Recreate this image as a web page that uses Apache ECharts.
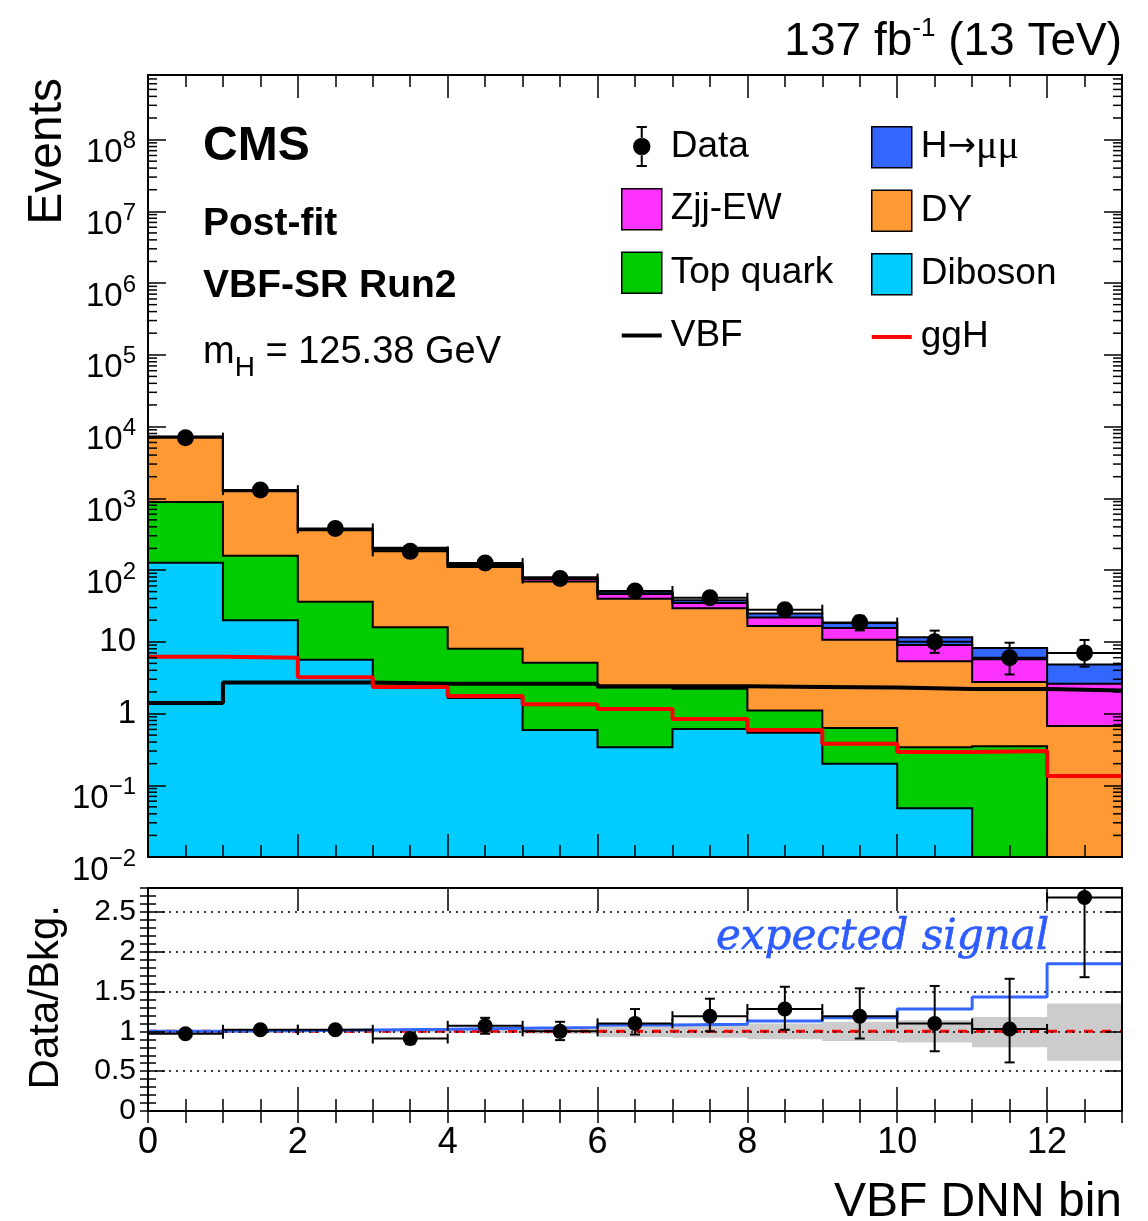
<!DOCTYPE html>
<html>
<head>
<meta charset="utf-8">
<script src="https://cdn.jsdelivr.net/npm/echarts@6/dist/echarts.min.js"></script>
<style>
html,body{margin:0;padding:0;background:#fff;}
#chart{width:1148px;height:1221px;}
</style>
</head>
<body>
<div id="chart"></div>
<script>
// ---------------- data ----------------
const binIndex  = [0, 1, 2, 3, 4, 5, 6, 7, 8, 9, 10, 11, 12];
// stacked components (events per bin)
const diboson   = [126, 20, 5.6, 2.4, 1.65, 0.59, 0.34, 0.61, 0.54, 0.2, 0.048, 0, 0];
const topQuark  = [764, 138, 30.4, 13.6, 6.35, 4.5, 1.96, 1.6, 0.56, 0.43, 0.29, 0.35, 0];
const dy        = [6310, 1100, 322, 175, 102, 64, 37.5, 27, 15.5, 10.0, 5.0, 2.4, 0.67];
const zjjEW     = [15, 12, 8, 8, 7, 6, 6.5, 5.5, 5.2, 4.9, 3.7, 2.95, 1.93];
const hmumu     = [7.6, 8.7, 5.9, 5.0, 4.35, 3.95, 3.56, 3.24, 2.94, 2.68, 2.49, 2.5, 2.24];
// signal lines (unstacked)
const vbf       = [1.4, 2.7, 2.7, 2.6, 2.6, 2.6, 2.4, 2.4, 2.35, 2.3, 2.2, 2.2, 2.1];
const ggh       = [6.2, 6.0, 3.2, 2.35, 1.75, 1.35, 1.16, 0.84, 0.59, 0.38, 0.29, 0.3, 0.135];
// data
const dataVal   = [7000, 1300, 380, 182, 125, 76, 51, 41, 28, 18.5, 10, 6.0, 7.0];
const dataLo    = [6916, 1264, 361, 169, 114, 67, 44, 35, 23, 14.4, 7.0, 3.5, 4.5];
const dataHi    = [7084, 1336, 400, 196, 136, 85, 58, 47.5, 33.7, 23, 14.3, 9.7, 10.6];
// ratio panel
const ratioVal  = [0.97, 1.02, 1.02, 0.91, 1.07, 1.00, 1.10, 1.19, 1.28, 1.19, 1.10, 1.03, 2.68];
const ratioLo   = [0.958, 0.992, 0.97, 0.84, 0.97, 0.89, 0.96, 1.00, 1.02, 0.91, 0.75, 0.61, 1.68];
const ratioHi   = [0.982, 1.048, 1.07, 0.98, 1.17, 1.12, 1.28, 1.41, 1.56, 1.54, 1.57, 1.66, 3.7];
const expSignal = [1.001, 1.007, 1.016, 1.025, 1.04, 1.05, 1.08, 1.09, 1.13, 1.17, 1.28, 1.43, 1.85];
const bandLo    = [0.995, 0.99, 0.99, 0.985, 0.98, 0.97, 0.93, 0.92, 0.90, 0.88, 0.86, 0.80, 0.63];
const bandHi    = [1.005, 1.01, 1.01, 1.015, 1.02, 1.03, 1.07, 1.08, 1.10, 1.12, 1.14, 1.18, 1.35];
// tick labels
const xTickValues     = [0, 2, 4, 6, 8, 10, 12];
const eventsTickExps  = [-2, -1, 0, 1, 2, 3, 4, 5, 6, 7, 8];
const ratioTickValues = [0, 0.5, 1, 1.5, 2, 2.5];

// ---------------- helpers ----------------
const FONT = '"Liberation Sans", Arial, Helvetica, sans-serif';
const Y_MIN = 1e-2, Y_MAX = Math.pow(10, 8.9);
const NB = binIndex.length;
const clampY = v => Math.min(Y_MAX, Math.max(Y_MIN, v));

const components = [
  {name: 'Diboson',   vals: diboson,  color: '#00CCFF'},
  {name: 'Top quark', vals: topQuark, color: '#00CC00'},
  {name: 'DY',        vals: dy,       color: '#FF9933'},
  {name: 'Zjj-EW',    vals: zjjEW,    color: '#FF33FF'},
  {name: 'H→μμ',      vals: hmumu,    color: '#3366FF'}
];
let running = binIndex.map(() => 0);
components.forEach(c => {
  c.lo = running.slice();
  running = running.map((v, i) => v + c.vals[i]);
  c.hi = running.slice();
});

function stepTop(api, arr, clamp) {
  const pts = [];
  for (let i = 0; i < NB; i++) {
    pts.push(api.coord([binIndex[i], clamp(arr[i])]));
    pts.push(api.coord([binIndex[i] + 1, clamp(arr[i])]));
  }
  return pts;
}
function stepBand(api, lo, hi, clamp) {
  const pts = stepTop(api, hi, clamp);
  for (let i = NB - 1; i >= 0; i--) {
    pts.push(api.coord([binIndex[i] + 1, clamp(lo[i])]));
    pts.push(api.coord([binIndex[i], clamp(lo[i])]));
  }
  return pts;
}

function stackSeries(c) {
  return {
    name: c.name, type: 'custom', xAxisIndex: 0, yAxisIndex: 0, z: 2, clip: true, silent: true,
    itemStyle: {color: c.color},
    data: [[0.5, 1]], encode: {x: 0, y: 1},
    renderItem: (params, api) => ({
      type: 'polygon',
      shape: {points: stepBand(api, c.lo, c.hi, clampY)},
      style: {fill: c.color, stroke: null}
    })
  };
}

function errRender(params, api) {
  const b = api.value(0), v = api.value(1), lo = api.value(2), hi = api.value(3);
  const pl = api.coord([b, v]), pr = api.coord([b + 1, v]);
  const plo = api.coord([b + 0.5, lo]), phi = api.coord([b + 0.5, hi]);
  const st = {stroke: '#000', lineWidth: 2};
  const L = (x1, y1, x2, y2) => ({type: 'line', shape: {x1, y1, x2, y2}, style: st});
  return {type: 'group', children: [
    L(pl[0], pl[1], pr[0], pr[1]),
    L(pl[0], pl[1] - 5, pl[0], pl[1] + 5),
    L(pr[0], pr[1] - 5, pr[0], pr[1] + 5),
    L(plo[0], plo[1], phi[0], phi[1]),
    L(plo[0] - 5, plo[1], plo[0] + 5, plo[1]),
    L(phi[0] - 5, phi[1], phi[0] + 5, phi[1])
  ]};
}

const tickStyle = {color: '#000', width: 1.5};
function mkX(grid, pos, interval, len, extra) {
  return Object.assign({
    type: 'value', gridIndex: grid, position: pos, min: 0, max: 13, interval: interval, z: 10,
    axisLine: {show: true, onZero: false, lineStyle: {color: '#000', width: 2}},
    axisTick: {show: true, inside: true, length: len, lineStyle: tickStyle},
    axisLabel: {show: false}, splitLine: {show: false}, minorTick: {show: false}
  }, extra || {});
}
function mkRatioY(pos, interval, len, extra) {
  return Object.assign({
    type: 'value', gridIndex: 1, position: pos, min: 0, max: 2.8, interval: interval, z: 10,
    axisLine: {show: true, onZero: false, lineStyle: {color: '#000', width: 2}},
    axisTick: {show: true, inside: true, length: len, lineStyle: tickStyle},
    axisLabel: {show: false}, splitLine: {show: false}, minorTick: {show: false}
  }, extra || {});
}
function mkLogY(pos, extra) {
  return Object.assign({
    type: 'log', logBase: 10, gridIndex: 0, position: pos, min: Y_MIN, max: Y_MAX,
    interval: 1, splitNumber: 11, z: 10,
    axisLine: {show: true, onZero: false, lineStyle: {color: '#000', width: 2}},
    axisTick: {show: true, inside: true, length: 18, lineStyle: tickStyle},
    axisLabel: {show: false}, splitLine: {show: false}, minorTick: {show: false}
  }, extra || {});
}

const minorLogTicks = [];
for (let e = -2; e <= 8; e++) {
  for (let m = 2; m <= 9; m++) {
    const v = m * Math.pow(10, e);
    if (v < Y_MAX) minorLogTicks.push([0, v]);
  }
}

const DATA_ICON = 'path://M9,0h2v12h-2zM9,28h2v12h-2zM5,0h10v2h-10zM5,38h10v2h-10zM1.5,20a8.5,8.5 0 1,0 17,0a8.5,8.5 0 1,0 -17,0z';
const LINE_ICON = 'path://M0,0h40v4h-40z';
const boxStyle = {borderColor: '#000', borderWidth: 1.5};
const legendText = {
  fontFamily: FONT, fontSize: 37, color: '#000', lineHeight: 41, padding: [0, 0, 0, 4],
  rich: {
    a: {fontFamily: '"DejaVu Sans", sans-serif', fontSize: 34, color: '#000', lineHeight: 41},
    m: {fontFamily: '"Liberation Serif", serif', fontSize: 40, color: '#000', lineHeight: 41}
  }
};
const legendFormatter = name => name === 'H→μμ' ? 'H{a|→}{m|μμ}' : name;

const option = {
  animation: false,
  backgroundColor: '#fff',
  grid: [
    {left: 148, right: 26, top: 75, height: 782, containLabel: false, outerBoundsMode: 'none'},
    {left: 148, right: 26, top: 888, height: 223, containLabel: false, outerBoundsMode: 'none'}
  ],
  xAxis: [
    mkX(0, 'bottom', 2, 23),
    mkX(0, 'bottom', 0.5, 12, {axisLine: {show: false}}),
    mkX(0, 'top', 2, 23),
    mkX(0, 'top', 0.5, 12, {axisLine: {show: false}}),
    mkX(1, 'bottom', 2, 24, {axisLabel: {show: true, color: '#000', fontFamily: FONT, fontSize: 36, margin: 14,
        hideOverlap: false, showMinLabel: true, showMaxLabel: true,
        formatter: v => xTickValues.some(t => Math.abs(t - v) < 1e-9) ? String(v) : ''}}),
    mkX(1, 'bottom', 0.5, 12, {axisLine: {show: false}}),
    mkX(1, 'top', 2, 23),
    mkX(1, 'top', 0.5, 12, {axisLine: {show: false}})
  ],
  yAxis: [
    mkLogY('left', {axisLabel: {show: true, color: '#000', fontFamily: FONT, margin: 12, hideOverlap: false,
      showMinLabel: true, showMaxLabel: true,
      formatter: v => {
        const e = Math.log10(v), r = Math.round(e);
        if (Math.abs(e - r) > 1e-6 || eventsTickExps.indexOf(r) < 0) return '';
        if (r === 0) return '{p|1}';
        if (r === 1) return '{p|10}';
        return '{b|10}{s|' + (r < 0 ? '\u2212' : '') + Math.abs(r) + '}';
      },
      rich: {
        p: {fontSize: 33, fontFamily: FONT, color: '#000'},
        b: {fontSize: 33, fontFamily: FONT, color: '#000', lineHeight: 34, verticalAlign: 'top', padding: [14, 0, 0, 0]},
        s: {fontSize: 24, fontFamily: FONT, color: '#000', lineHeight: 22, verticalAlign: 'top', padding: [7, 0, 0, 0]}
      }}}),
    mkLogY('right'),
    mkRatioY('left', 0.5, 17, {
      axisLabel: {show: true, color: '#000', fontFamily: FONT, fontSize: 30, margin: 12, hideOverlap: false,
        showMinLabel: true, showMaxLabel: true,
        formatter: v => ratioTickValues.some(t => Math.abs(t - v) < 1e-9) ? String(v) : ''},
      splitLine: {show: true, lineStyle: {color: '#000', width: 1.5, type: [2, 5]}}
    }),
    mkRatioY('left', 0.1, 8, {axisLine: {show: false}}),
    mkRatioY('right', 0.5, 17),
    mkRatioY('right', 0.1, 8, {axisLine: {show: false}})
  ],
  legend: [
    {left: 621, top: 126, orient: 'vertical', itemWidth: 40, itemHeight: 41, itemGap: 21, padding: 0,
     selectedMode: false, textStyle: legendText, formatter: legendFormatter,
     data: [
       {name: 'Data', icon: DATA_ICON, itemStyle: {color: '#000', opacity: 1}},
       {name: 'Zjj-EW', icon: 'rect', itemStyle: boxStyle},
       {name: 'Top quark', icon: 'rect', itemStyle: boxStyle},
       {name: 'VBF', icon: LINE_ICON, itemStyle: {color: '#000'}}
     ]},
    {left: 871, top: 126, orient: 'vertical', itemWidth: 40, itemHeight: 41, itemGap: 21, padding: 0,
     selectedMode: false, textStyle: legendText, formatter: legendFormatter,
     data: [
       {name: 'H→μμ', icon: 'rect', itemStyle: boxStyle},
       {name: 'DY', icon: 'rect', itemStyle: boxStyle},
       {name: 'Diboson', icon: 'rect', itemStyle: boxStyle},
       {name: 'ggH', icon: LINE_ICON, itemStyle: {color: '#FF0000'}}
     ]}
  ],
  graphic: [
    {type: 'text', x: 1122, y: 31.5, style: {
      text: '{n|137 fb}{s|-1}{n| (13 TeV)}', align: 'right', verticalAlign: 'middle',
      rich: {
        n: {fontSize: 46, fontFamily: FONT, fill: '#000', lineHeight: 45, verticalAlign: 'top', padding: [10, 0, 0, 0]},
        s: {fontSize: 26, fontFamily: FONT, fill: '#000', lineHeight: 26, verticalAlign: 'top', padding: [7, 0, 0, 0]}
      }}},
    {type: 'text', x: 203, y: 146.5, style: {text: 'CMS', font: 'bold 48px ' + FONT, fill: '#000', align: 'left', verticalAlign: 'middle'}},
    {type: 'text', x: 203, y: 224.5, style: {text: 'Post-fit', font: 'bold 39px ' + FONT, fill: '#000', align: 'left', verticalAlign: 'middle'}},
    {type: 'text', x: 203, y: 286, style: {text: 'VBF-SR Run2', font: 'bold 39px ' + FONT, fill: '#000', align: 'left', verticalAlign: 'middle'}},
    {type: 'text', x: 203, y: 352.5, style: {
      text: '{n|m}{b|H}{n| = 125.38 GeV}', align: 'left', verticalAlign: 'middle',
      rich: {
        n: {fontSize: 38, fontFamily: FONT, fill: '#000', lineHeight: 37, verticalAlign: 'top'},
        b: {fontSize: 28, fontFamily: FONT, fill: '#000', lineHeight: 28, verticalAlign: 'top', padding: [20, 0, 0, 0]}
      }}},
    {type: 'text', x: 48, y: 78, rotation: Math.PI / 2, style: {text: 'Events', font: '48px ' + FONT, fill: '#000', align: 'right', verticalAlign: 'middle'}},
    {type: 'text', x: 46, y: 905, rotation: Math.PI / 2, style: {text: 'Data/Bkg.', font: '42px ' + FONT, fill: '#000', align: 'right', verticalAlign: 'middle'}},
    {type: 'text', x: 1122, y: 1203, style: {text: 'VBF DNN bin', font: '48px ' + FONT, fill: '#000', align: 'right', verticalAlign: 'middle'}},
    {type: 'text', x: 716, y: 938, z: 20, style: {text: 'expected signal', font: 'italic 42px "DejaVu Serif", serif', fill: '#2D5BFF', stroke: '#2D5BFF', lineWidth: 0.6, align: 'left', verticalAlign: 'middle'}}
  ],
  series: [
    ...components.map(stackSeries),
    {
      name: 'stack outlines', type: 'custom', xAxisIndex: 0, yAxisIndex: 0, z: 3, clip: true, silent: true,
      data: [[0.5, 1]], encode: {x: 0, y: 1},
      renderItem: (params, api) => ({
        type: 'group',
        children: components.map(c => ({
          type: 'polyline', shape: {points: stepTop(api, c.hi, clampY)},
          style: {fill: null, stroke: '#000', lineWidth: 2}
        }))
      })
    },
    {
      name: 'VBF', type: 'line', step: 'end', xAxisIndex: 0, yAxisIndex: 0, z: 4, silent: true,
      symbol: 'none', lineStyle: {color: '#000', width: 4}, itemStyle: {color: '#000'},
      data: binIndex.map((b, i) => [b, vbf[i]]).concat([[NB, vbf[NB - 1]]])
    },
    {
      name: 'ggH', type: 'line', step: 'end', xAxisIndex: 0, yAxisIndex: 0, z: 4, silent: true,
      symbol: 'none', lineStyle: {color: '#FF0000', width: 4}, itemStyle: {color: '#FF0000'},
      data: binIndex.map((b, i) => [b, ggh[i]]).concat([[NB, ggh[NB - 1]]])
    },
    {
      name: 'data errors', type: 'custom', xAxisIndex: 0, yAxisIndex: 0, z: 5, clip: true, silent: true,
      data: binIndex.map((b, i) => [b, dataVal[i], dataLo[i], dataHi[i]]), encode: {x: 0, y: 1},
      renderItem: errRender
    },
    {
      name: 'Data', type: 'scatter', xAxisIndex: 0, yAxisIndex: 0, z: 6, silent: true,
      symbol: 'circle', symbolSize: 17, itemStyle: {color: '#000', opacity: 1},
      data: binIndex.map((b, i) => [b + 0.5, dataVal[i]])
    },
    {
      name: 'minor log ticks', type: 'custom', xAxisIndex: 0, yAxisIndex: 0, z: 11, silent: true,
      data: minorLogTicks, encode: {x: 0, y: 1},
      renderItem: (params, api) => {
        const v = api.value(1);
        const pl = api.coord([0, v]), pr = api.coord([13, v]);
        const st = {stroke: '#000', lineWidth: 1.5};
        return {type: 'group', children: [
          {type: 'line', shape: {x1: pl[0], y1: pl[1], x2: pl[0] + 9, y2: pl[1]}, style: st},
          {type: 'line', shape: {x1: pr[0] - 9, y1: pr[1], x2: pr[0], y2: pr[1]}, style: st}
        ]};
      }
    },
    // ---------- ratio panel ----------
    {
      name: 'bkg. uncertainty', type: 'custom', xAxisIndex: 4, yAxisIndex: 2, z: 2, clip: true, silent: true,
      data: [[0.5, 1]], encode: {x: 0, y: 1},
      renderItem: (params, api) => ({
        type: 'polygon', shape: {points: stepBand(api, bandLo, bandHi, v => v)},
        style: {fill: '#CCCCCC', stroke: null}
      })
    },
    {
      name: 'unity', type: 'line', xAxisIndex: 4, yAxisIndex: 2, z: 4, silent: true, symbol: 'none',
      lineStyle: {color: '#FF0000', width: 3, type: [9, 9]},
      data: [[0, 1], [13, 1]]
    },
    {
      name: 'expected signal', type: 'line', step: 'end', xAxisIndex: 4, yAxisIndex: 2, z: 5, silent: true,
      symbol: 'none', lineStyle: {color: '#3366FF', width: 3},
      data: binIndex.map((b, i) => [b, expSignal[i]]).concat([[NB, expSignal[NB - 1]]])
    },
    {
      name: 'ratio errors', type: 'custom', xAxisIndex: 4, yAxisIndex: 2, z: 6, clip: true, silent: true,
      data: binIndex.map((b, i) => [b, ratioVal[i], ratioLo[i], ratioHi[i]]), encode: {x: 0, y: 1},
      renderItem: errRender
    },
    {
      name: 'Data/Bkg.', type: 'scatter', xAxisIndex: 4, yAxisIndex: 2, z: 7, silent: true,
      symbol: 'circle', symbolSize: 15, itemStyle: {color: '#000', opacity: 1},
      data: binIndex.map((b, i) => [b + 0.5, ratioVal[i]])
    }
  ]
};

const chart = echarts.init(document.getElementById('chart'), null, {renderer: 'canvas'});
chart.setOption(option);
</script>
</body>
</html>
